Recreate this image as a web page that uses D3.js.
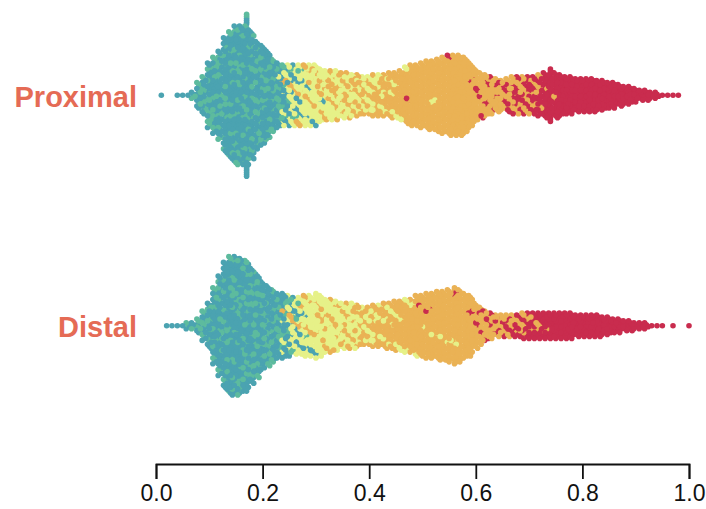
<!DOCTYPE html>
<html>
<head>
<meta charset="utf-8">
<script src="https://cdn.jsdelivr.net/npm/d3@7"></script>
<style>
  html, body { margin: 0; padding: 0; background: #fff; }
  svg { display: block; }
  text { font-family: "Liberation Sans", Arial, sans-serif; }
</style>
</head>
<body>
<div id="chart"></div>
<script>
const zeros = n => Array(n).fill(0);

const groupLabels = ["Proximal", "Distal"];
const tickValues = [0, 0.2, 0.4, 0.6, 0.8, 1];
const binWidth = 0.01;

// points per 0.01 bin; first entry is the 0.01 bin
const proximalTeal = [1,0,0,1,1,1,1,4,6,10, 13,15,21,24,25,26,31,24,20,18, 16,13,11,7,6,4,3,2,2,1, 1];
const proximalGreen = [0,0,0,0,0,0,1,3,4,7, 7,8,9,9,11,10,11,9,8,8, 7,6,5,4,2,1,1];
const proximalYellow = [...zeros(22), 1,4,7,9,10,12,11,12, 10,9,9,8,7,7,6,6,5,5, 5,4,3,3,2,1,1,0,0,0, 0,1];
const proximalOrange = [...zeros(23), 1,1,2,2,2,3,3, 3,4,4,5,5,5,5,5,5,5, 6,7,8,9,10,12,13,16,16,17,
  18,17,19,20,20,21,21,20,16,13, 10,9,8,7,6,5,5,5,4,4, 3,3,1,0,1];
const proximalRed = [...zeros(46), 1,0,0,0, 0,0,0,0,1,0,0,0,1,1, 2,2,2,2,2,4,5,5,6,6,
  7,8,11,14,11,11,10,10,9,9, 9,9,8,8,7,7,6,5,5,4, 3,3,2,2,1,1,1,1];

const distalTeal = [0,1,1,1,1,1,1,2,5,8, 13,18,24,26,26,25,24,21,19,16, 14,13,11,9,6,4,3,2,1,1];
const distalGreen = [0,0,0,0,0,1,1,2,3,4, 7,8,9,10,10,10,10,9,8,7, 7,6,6,4,3,2,1,1];
const distalYellow = [...zeros(23), 3,6,8,9,11,13,13, 13,11,11,10,8,8,7,6,4,4, 4,3,3,3,2,2,2,1,1,1, 0,1,1,0,1,1];
const distalOrange = [...zeros(23), 1,1,1,2,2,2,3, 3,3,3,3,4,4,5,5,6,6, 7,8,9,9,11,11,12,13,14,15,
  16,16,17,18,18,18,19,17,15,11, 8,6,5,4,4,3,3,3,3,2, 2,1,1];
const distalRed = [...zeros(48), 1,0,1,0,0,0,0,1,0,0,
  1,1,2,2,2,2,2,3,3,3, 4,5,5,6,6,7,7,7,7,7, 6,6,6,6,6,5,5,4,4,3, 3,2,2,2,1,1,1,0,1,0, 0,1];

const classColors = ["#4ba3b1", "#5dbb9e", "#e6f188", "#eab255", "#c92c4e"];
const labelColor = "#e56b55";

const groupSeries = [
  [proximalTeal, proximalGreen, proximalYellow, proximalOrange, proximalRed],
  [distalTeal, distalGreen, distalYellow, distalOrange, distalRed]
];

const W = 706, H = 509;
const dotR = 2.8;
const rowGap = 1.95;
const subColumns = [-1.78, 0, 1.78];

const svg = d3.select("#chart").append("svg")
  .attr("width", W)
  .attr("height", H)
  .attr("viewBox", `0 0 ${W} ${H}`);

const x = d3.scaleLinear().domain([0, 1]).range([156, 689]);
const y = d3.scaleBand().domain(groupLabels).range([-20, 441]);

// stack each bin into a column of dots, two rows for each count
function binPoints(series, label) {
  const total = b => d3.sum(series, s => s[b] || 0);
  const pts = [];
  for (let b = 0; b < 100; b++) {
    const n = total(b);
    if (!n) continue;
    const cls = [];
    series.forEach((s, c) => d3.range(s[b] || 0).forEach(() => cls.push(c)));
    const order = d3.range(n).sort((p, q) =>
      ((p * 0.618 + b * 0.37) % 1) - ((q * 0.618 + b * 0.37) % 1));
    const rows = n === 1 ? 1 : n * 2;
    const reach = Math.max(b ? total(b - 1) : 0, total(b + 1)) * rowGap;
    order.forEach((slot, k) => {
      d3.range(n === 1 ? 1 : 2).forEach(j => {
        const row = slot * 2 + j;
        const dy = (row - (rows - 1) / 2) * rowGap;
        pts.push({
          value: (b + 1) * binWidth,
          group: label,
          cls: cls[k],
          dx: n === 1 || Math.abs(dy) > reach ? 0 : subColumns[row % 3],
          dy
        });
      });
    });
  }
  // mixed draw order so no class always ends up on top
  return d3.range(pts.length)
    .sort((p, q) => ((p * 0.618) % 1) - ((q * 0.618) % 1))
    .map(i => pts[i]);
}

groupLabels.forEach((label, i) => {
  const cy = y(label) + y.bandwidth() / 2;
  const g = svg.append("g").attr("class", "swarm");

  g.selectAll("circle")
    .data(binPoints(groupSeries[i], label))
    .join("circle")
    .attr("cx", d => x(d.value) + d.dx)
    .attr("cy", d => cy + d.dy)
    .attr("r", dotR)
    .attr("fill", d => classColors[d.cls]);

  svg.append("text")
    .attr("x", 137)
    .attr("y", cy + 11.5)
    .attr("text-anchor", "end")
    .attr("font-size", 29)
    .attr("font-weight", "bold")
    .attr("fill", labelColor)
    .text(label);
});

const axis = svg.append("g")
  .attr("transform", "translate(0,464)")
  .call(d3.axisBottom(x)
    .tickValues(tickValues)
    .tickFormat(d3.format(".1f"))
    .tickSize(15)
    .tickPadding(6));

axis.select(".domain").attr("stroke", "#111").attr("stroke-width", 1.8);
axis.selectAll(".tick line").attr("stroke", "#111").attr("stroke-width", 1.8);
axis.selectAll(".tick text")
  .attr("font-size", 23)
  .attr("font-family", '"Liberation Sans", Arial, sans-serif')
  .attr("fill", "#111");
</script>
</body>
</html>
